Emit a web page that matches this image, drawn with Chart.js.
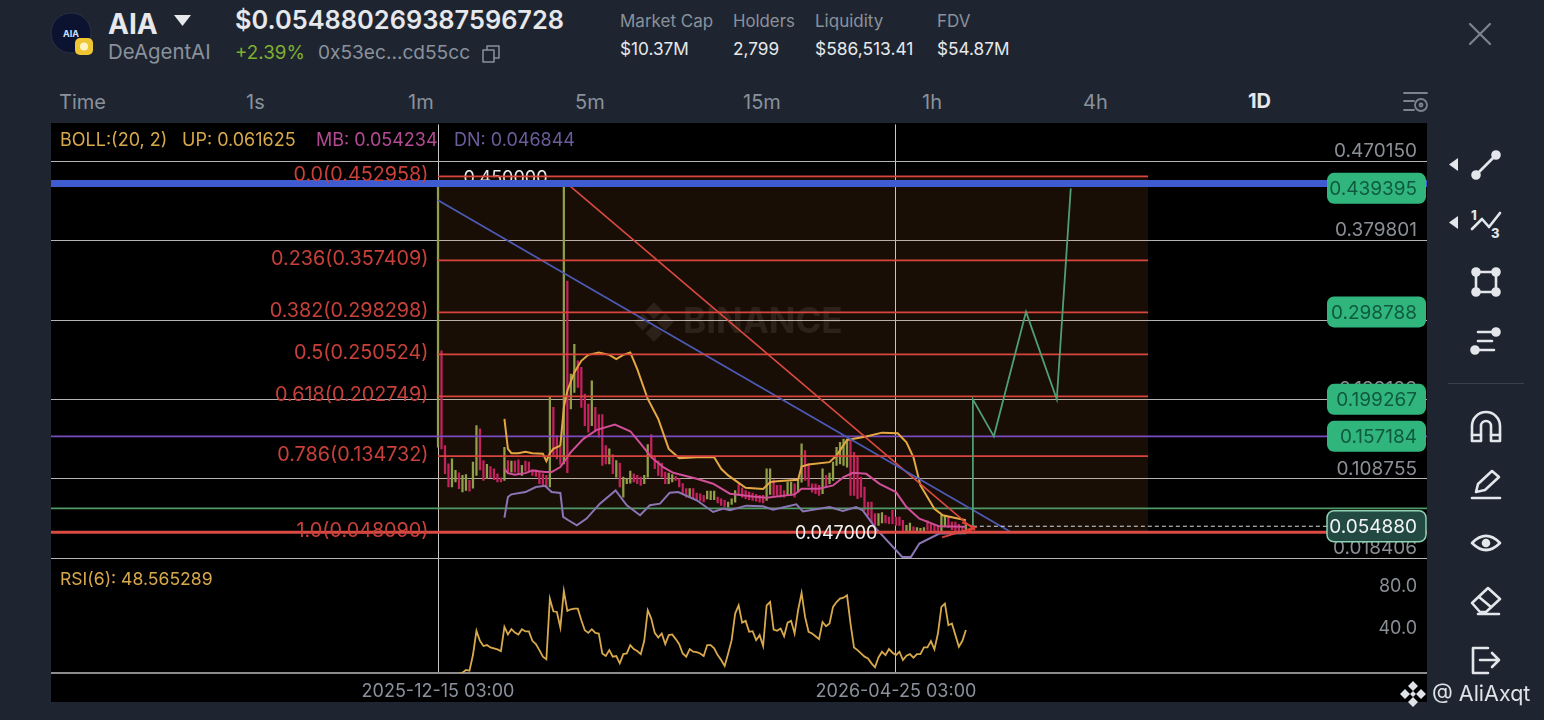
<!DOCTYPE html>
<html lang="en">
<head>
<meta charset="UTF-8">
<title>AIA DeAgentAI 1D</title>
<script src="https://cdn.jsdelivr.net/npm/chart.js@4"></script>
<style>
  html, body { margin: 0; padding: 0; background: #1e2530; width: 1544px; height: 720px; overflow: hidden; }
  body { position: relative; font-family: Inter, "Open Sans", sans-serif; color: #8a919c; }
  .t { position: absolute; white-space: nowrap; line-height: 1; transform: translateY(-50%); }
  .w { color: #e6e8ec; }
  .lbl { font-size: 17px; }
  .tf { font-size: 20px; top: 102px; }
  .ind { font-size: 18px; top: 140px; }
  #chartBox { position: absolute; left: 51px; top: 123px; width: 1376px; height: 579px; background: #000; }
  svg.ic { position: absolute; fill: none; stroke: #e3e6ea; stroke-width: 2.6; stroke-linecap: round; stroke-linejoin: round; }
</style>
</head>
<body>
  <!-- header -->
  <svg style="position:absolute;left:50px;top:12px" width="46" height="46" viewBox="0 0 46 46">
    <circle cx="21" cy="21" r="20" fill="#0b1330" stroke="#2a3040"/>
    <text x="21" y="25" font-size="9" font-weight="700" fill="#cfe0ff" text-anchor="middle" font-family="Inter">AIA</text>
    <rect x="25" y="26" width="18" height="17" rx="5" fill="#f0c534"/>
    <circle cx="34" cy="34.500" r="4" fill="#fff3bf"/>
  </svg>
  <div class="t w" style="left:108px;top:24px;font-size:28px;font-weight:700">AIA</div>
  <svg style="position:absolute;left:174px;top:15px" width="18" height="12"><path d="M0 0H17L8.500 11Z" fill="#e6e8ec"/></svg>
  <div class="t" style="left:108px;top:52px;font-size:20.400px">DeAgentAI</div>
  <div class="t w" style="left:235px;top:20px;font-size:25.400px;font-weight:600">$0.054880269387596728</div>
  <div class="t" style="left:235px;top:53px;font-size:18.800px;color:#7fb02f">+2.39%</div>
  <div class="t" style="left:318px;top:53px;font-size:19.100px">0x53ec...cd55cc</div>
  <svg class="ic" style="left:482px;top:45px;stroke:#8a919c;stroke-width:1.500" width="18" height="18"><rect x="1" y="5" width="11" height="12"/><path d="M5 5V1H17V13H12"/></svg>

  <div class="t lbl" style="left:620px;top:21px">Market Cap</div>
  <div class="t lbl w" style="left:620px;top:49px;font-size:17.200px">$10.37M</div>
  <div class="t lbl" style="left:733px;top:21px;font-size:16.800px">Holders</div>
  <div class="t lbl w" style="left:733px;top:49px;font-size:17.200px">2,799</div>
  <div class="t lbl" style="left:815px;top:21px">Liquidity</div>
  <div class="t lbl w" style="left:815px;top:49px;font-size:17.400px">$586,513.41</div>
  <div class="t lbl" style="left:937px;top:21px">FDV</div>
  <div class="t lbl w" style="left:937px;top:49px;font-size:17.200px">$54.87M</div>
  <svg class="ic" style="left:1468px;top:22px;stroke:#7d8490;stroke-width:2.200" width="24" height="24"><path d="M2 2L22 22M22 2L2 22"/></svg>

  <!-- timeframe row -->
  <div class="t tf" style="left:59px">Time</div>
  <div class="t tf" style="left:246px">1s</div>
  <div class="t tf" style="left:408px">1m</div>
  <div class="t tf" style="left:575px">5m</div>
  <div class="t tf" style="left:743px">15m</div>
  <div class="t tf" style="left:922px">1h</div>
  <div class="t tf" style="left:1083px">4h</div>
  <div class="t w tf" style="left:1248px;top:101px;font-weight:700">1D</div>
  <svg class="ic" style="left:1403px;top:90px;stroke:#7d8490;stroke-width:1.800" width="26" height="24"><path d="M1 3H24M1 11H11M1 20H11"/><circle cx="18" cy="15" r="6"/><circle cx="18" cy="15" r="1.500"/></svg>

  <div id="chartBox"><canvas id="c" width="1376" height="579"></canvas></div>

  <!-- indicator read-outs -->
  <div class="t ind" style="left:60px;color:#d8a94c">BOLL:(20, 2)</div>
  <div class="t ind" style="left:182px;color:#d8a94c">UP: 0.061625</div>
  <div class="t ind" style="left:316px;color:#b24a94">MB: 0.054234</div>
  <div class="t ind" style="left:454px;color:#6c5c9c">DN: 0.046844</div>
  <div class="t" style="left:60px;top:579px;font-size:17.600px;color:#d8a94c">RSI(6): 48.565289</div>

  <!-- drawing tools -->
  <svg style="position:absolute;left:1449px;top:158px" width="10" height="14"><path d="M9 0V13L0 6.500Z" fill="#e3e6ea"/></svg>
  <svg style="position:absolute;left:1449px;top:216px" width="10" height="14"><path d="M9 0V13L0 6.500Z" fill="#e3e6ea"/></svg>
  <svg class="ic" style="left:1470px;top:149px" width="32" height="32"><path d="M6 26L26 6"/><circle cx="6" cy="26" r="3.500" fill="#e3e6ea"/><circle cx="26" cy="6" r="3.500" fill="#e3e6ea"/></svg>
  <svg class="ic" style="left:1470px;top:207px" width="32" height="32"><path d="M2 22L12 12L19 20L30 6"/><text x="1" y="13" font-size="13" font-weight="800" fill="#e3e6ea" stroke="none" font-family="Inter">1</text><text x="21" y="31" font-size="13" font-weight="800" fill="#e3e6ea" stroke="none" font-family="Inter">3</text></svg>
  <svg class="ic" style="left:1470px;top:266px" width="32" height="32"><rect x="6" y="6" width="20" height="20"/><circle cx="6" cy="6" r="3.500" fill="#e3e6ea"/><circle cx="26" cy="6" r="3.500" fill="#e3e6ea"/><circle cx="6" cy="26" r="3.500" fill="#e3e6ea"/><circle cx="26" cy="26" r="3.500" fill="#e3e6ea"/></svg>
  <svg class="ic" style="left:1470px;top:325px" width="32" height="32"><path d="M8 7H24M8 16H22M8 25H24"/><circle cx="26" cy="7" r="3.500" fill="#e3e6ea"/><circle cx="5" cy="25" r="3.500" fill="#e3e6ea"/></svg>
  <div style="position:absolute;left:1448px;top:383px;width:76px;height:1px;background:#3a414d"></div>
  <svg class="ic" style="left:1470px;top:410px" width="32" height="34"><path d="M2 31V16A14 14 0 0 1 30 16V31H21V16A5 5 0 0 0 11 16V31Z"/><path d="M2 25H11M21 25H30"/></svg>
  <svg class="ic" style="left:1470px;top:468px" width="32" height="32"><path d="M2 30H30"/><path d="M6 24L8 16L22 3L29 9L15 22Z"/></svg>
  <svg class="ic" style="left:1470px;top:527px" width="32" height="32"><path d="M2 16Q16 2 30 16Q16 30 2 16Z"/><circle cx="16" cy="16" r="3" fill="#e3e6ea"/></svg>
  <svg class="ic" style="left:1470px;top:585px" width="32" height="32"><path d="M2 18L18 3L30 14L16 27H10Z"/><path d="M9 12L21 22M8 29H29"/></svg>
  <svg class="ic" style="left:1470px;top:644px" width="32" height="32"><path d="M18 4H3V29H18"/><path d="M10 16H29M22 9L29 16L22 23"/></svg>

  <!-- corner tag -->
  <svg style="position:absolute;left:1399px;top:680px" width="28" height="28" viewBox="0 0 28 28" fill="#dfe2e6"><path d="M14 1L19 6L14 11L9 6ZM6 9L11 14L6 19L1 14ZM22 9L27 14L22 19L17 14ZM14 17L19 22L14 27L9 22ZM14 11L17 14L14 17L11 14Z"/></svg>
  <div class="t" style="left:1432px;top:694px;font-size:21.500px;color:#dfe2e6">@ AliAxqt</div>

<script>
// ---- data ----
const rightValueTicks = [0.470150, 0.379801, 0.289452, 0.199103, 0.108755, 0.018406];
const rsiTicks = [80, 40];
const dateTicks = [0, 131]; // days since first candle
const dateLabels = ['2025-12-15 03:00', '2026-04-25 03:00'];

const candleHigh = [0.4450,0.2545,0.1467,0.1259,0.1316,0.1184,0.1157,0.1127,0.1138,0.1070,0.1278,0.1694,0.1656,0.1297,0.1252,0.1229,0.1203,0.1146,0.1101,
  0.1448,0.1297,0.1290,0.1290,0.1305,0.1241,0.1290,0.1278,0.1191,0.1191,0.1165,0.1146,0.1127,0.2023,0.1902,0.1581,0.1448,0.4418,0.3339,0.2280,0.2620,
  0.2431,0.2356,0.2053,0.1940,0.2204,0.1902,0.1819,0.1819,0.1467,0.1429,0.1365,0.1297,0.1267,0.1108,0.1089,0.1176,0.1146,0.1127,0.1108,0.1127,
  0.1479,0.1592,0.1335,0.1290,0.1267,0.1165,0.1153,0.1138,0.1116,0.1089,0.1033,0.0976,0.0976,0.0976,0.0927,0.0919,0.0900,0.0949,0.0949,0.0949,0.0881,
  0.0862,0.0843,0.0824,0.0862,0.0956,0.1032,0.0987,0.0956,0.0937,0.0926,0.0911,0.0900,0.0900,0.1202,0.1202,0.1077,0.1013,0.1013,0.0956,
  0.1051,0.1051,0.1032,0.1070,0.1486,0.1410,0.1259,0.1032,0.1032,0.1013,0.1202,0.1127,0.1153,0.1278,0.1448,0.1505,0.1542,0.1542,
  0.1523,0.1391,0.1334,0.1108,0.0994,0.0824,0.0824,0.0692,0.0692,0.0703,0.0673,0.0654,0.0730,0.0654,0.0654,0.0616,0.0559,0.0586,0.0541,0.0533,0.0525,0.0533,
  0.0609,0.0571,0.0559,0.0559,0.0673,0.0673,0.0654,0.0597,0.0597,0.0571,0.0548,0.0571];
const candleLow = [0.1448,0.1429,0.1146,0.0995,0.0995,0.1052,0.0976,0.0938,0.0957,0.0949,0.0983,0.1127,0.1191,0.1070,0.1089,0.1101,0.1078,0.1052,0.1052,
  0.1070,0.1146,0.1165,0.1165,0.1146,0.1127,0.1176,0.1165,0.1127,0.1116,0.1033,0.1014,0.0995,0.0995,0.1354,0.1316,0.1252,0.1259,0.1157,0.1883,0.2072,
  0.2129,0.1902,0.1694,0.1618,0.1694,0.1637,0.1562,0.1241,0.1259,0.1259,0.1146,0.1108,0.0995,0.0881,0.1033,0.1040,0.1052,0.1033,0.1014,0.1033,
  0.1108,0.1327,0.1203,0.1127,0.1108,0.1033,0.1033,0.1052,0.1070,0.0995,0.0919,0.0881,0.0874,0.0862,0.0844,0.0836,0.0825,0.0859,0.0851,0.0851,0.0813,
  0.0786,0.0775,0.0767,0.0798,0.0824,0.0900,0.0881,0.0862,0.0851,0.0843,0.0835,0.0824,0.0813,0.0843,0.0911,0.0900,0.0900,0.0881,0.0881,
  0.0900,0.0900,0.0881,0.0937,0.1051,0.1070,0.1002,0.0937,0.0919,0.0900,0.0919,0.0994,0.1032,0.1070,0.1240,0.1259,0.1240,0.1221,
  0.0900,0.0900,0.0862,0.0881,0.0730,0.0673,0.0597,0.0559,0.0559,0.0586,0.0586,0.0578,0.0578,0.0559,0.0559,0.0484,0.0495,0.0495,0.0495,0.0495,0.0495,0.0495,
  0.0503,0.0495,0.0495,0.0495,0.0495,0.0541,0.0533,0.0510,0.0495,0.0495,0.0484,0.0484];
const candleUp = [1,0,0,0,1,1,0,1,1,0,1,1,0,0,1,0,0,0,0,
  1,0,1,0,0,1,0,0,0,0,0,0,0,1,0,0,0,1,0,1,1,
  0,0,0,0,1,0,0,0,0,1,0,1,0,1,1,1,0,0,0,1,
  1,0,0,0,0,0,1,1,0,0,0,0,1,0,0,0,0,1,1,1,0,
  0,0,1,1,1,0,0,0,0,0,0,0,0,1,1,0,0,0,0,
  1,1,0,1,1,0,0,0,0,0,1,0,1,1,1,1,1,1,
  0,0,0,0,0,0,0,0,1,1,0,0,0,0,0,0,1,1,0,1,1,1,
  0,0,0,0,1,1,0,0,0,0,0,1];

const bollUpDays = [19,20,21,23,25,27,30,31,32,33,35,36,37,39,41,43,46,49,51,53,55,57,60,63,66,69,74,79,81,83,85,88,93,95,97,103,104,106,112,114,117,122.5,127,131.5,134,136,138,142,144.4,151];
const bollUpValues = [0.1770,0.1429,0.1380,0.1380,0.1395,0.1380,0.1373,0.1290,0.1380,0.1429,0.1467,0.1902,0.2091,0.2299,0.2431,0.2499,0.2526,0.2499,0.2450,0.2499,0.2526,0.2337,0.1997,0.1770,0.1429,0.1324,0.1335,0.1335,0.1203,0.1127,0.1070,0.0987,0.0972,0.1051,0.1062,0.1077,0.1229,0.1251,0.1278,0.1353,0.1531,0.1569,0.1614,0.1607,0.1505,0.1334,0.1013,0.0748,0.0673,0.0616];
const bollMidDays = [19,20,22,25,27,30.6,32.5,35,38,41.6,45.4,50.6,55,58,61,64.4,67.3,74,78.7,83.5,85.3,90,94,102,104,109,113,116,118.7,122.5,126.3,131,134,137.7,143.4,151];
const bollMidValues = [0.1203,0.1153,0.1135,0.1153,0.1184,0.1165,0.1165,0.1222,0.1392,0.1543,0.1645,0.1705,0.1630,0.1486,0.1335,0.1222,0.1157,0.1089,0.1033,0.0919,0.0911,0.0888,0.0873,0.0911,0.0975,0.0975,0.1013,0.1108,0.1157,0.1145,0.1032,0.0937,0.0767,0.0635,0.0548,0.0542];
const bollDnDays = [19,20,21,25,28,30.6,32.5,35,35.8,37.3,39.7,42.5,46.3,50.8,54,57.8,60.6,63.5,66.3,68.7,74,78.7,81.6,83.5,88.2,93,95.8,102.5,104.4,112,115.8,119.6,121.5,125.3,132.8,135.3,137.7,143.4,151];
const bollDnValues = [0.0647,0.0881,0.0912,0.0938,0.0995,0.1010,0.0938,0.0927,0.0655,0.0617,0.0560,0.0636,0.0806,0.0957,0.0787,0.0674,0.0787,0.0806,0.0931,0.0938,0.0844,0.0711,0.0749,0.0730,0.0783,0.0775,0.0737,0.0798,0.0718,0.0767,0.0722,0.0767,0.0730,0.0522,0.0200,0.0200,0.0352,0.0465,0.0468];

const rsiFirstDay = 6;
const rsiValues = [7.5,8.7,11.2,10.6,25.1,47.7,38.4,33.5,34.4,32.2,31.3,30.4,28.8,
  51.4,44.3,49.2,46.1,44.3,49.2,47.1,47.1,38.4,35.3,29.7,23.6,21.1,
  77.7,65.9,65.3,50.8,84.8,66.3,67.8,68.4,68.4,57.6,48.3,45.8,49.2,45.8,45.2,
  26.6,24.2,29.7,23.6,24.2,17.4,26.0,26.6,34.4,30.7,28.8,26.0,38.4,
  66.9,59.1,45.8,41.5,45.2,35.3,43.7,44.3,40.0,35.3,26.6,23.6,30.7,28.2,27.9,26.6,24.2,34.4,34.4,31.3,25.1,20.5,14.9,
  26.6,39.0,63.8,71.5,55.4,57.0,46.8,47.4,39.0,43.7,33.5,71.5,74.6,48.9,47.7,49.9,42.7,55.4,57.0,45.2,66.9,83.0,60.7,46.8,45.2,42.7,40.0,
  56.0,52.0,54.5,70.0,74.6,77.7,78.6,80.8,54.5,32.2,29.7,26.6,23.6,22.0,17.4,13.7,22.9,28.2,25.1,30.7,27.3,25.1,28.2,20.5,24.5,26.0,
  22.6,26.0,26.0,32.2,32.2,38.1,30.4,45.2,70.0,73.1,52.9,54.5,43.7,32.8,38.4,48.565289];

// fibonacci tool
const fibRatios = ['0.0','0.236','0.382','0.5','0.618','0.786','1.0'];
const fibValues = [0.452958,0.357409,0.298298,0.250524,0.202749,0.134732,0.048090];
const fibEndDay = 203.1;

// hand drawn lines on the chart
const blueLevel = 0.4450;
const purpleLevel = 0.157184;
const greenLevel = 0.0752;
const lastPrice = 0.054880;
const blueTrendDays = [0, 163.6];
const blueTrendValues = [0.4259, 0.0490];
const redTrendDays = [37.8, 153.6];
const redTrendValues = [0.4418, 0.0502];
const pathDays = [153, 153, 159, 168.2, 177, 181];
const pathValues = [0.05488, 0.199267, 0.157184, 0.298788, 0.199267, 0.439395];
const arrowDays = [144.2, 153.6, 149.9, 153.6, 151];
const arrowValues = [0.0422, 0.0536, 0.0592, 0.0536, 0.0468];

const priceTags = [0.439395, 0.298788, 0.199267, 0.157184];
const lastTag = 0.054880;

// ---- scale ranges (the visible window of the chart) ----
const dayMin = -110.7, dayMax = 282.9;
const pts = (xs, ys) => xs.map((x, i) => ({x: x, y: ys[i]}));
const ln = (data, color, width, order, extra) => Object.assign({
  type: 'line', data: data, borderColor: color, borderWidth: width, order: order,
  pointRadius: 0, tension: 0, fill: false, yAxisID: 'y', xAxisID: 'x'
}, extra || {});
const flat = (value, x0, x1) => [{x: x0, y: value}, {x: x1, y: value}];

const datasets = [
  // fib zone background
  ln(flat(fibValues[0], 0, fibEndDay), 'transparent', 0, 90,
     {fill: {value: fibValues[6]}, backgroundColor: 'rgba(240,140,60,0.10)'}),
  // candles
  { type: 'bar', yAxisID: 'y', xAxisID: 'x', order: 60, barThickness: 1.6, grouped: false,
    data: candleHigh.map((h, i) => ({x: i, y: [candleLow[i], h]})),
    backgroundColor: candleUp.map(u => u ? '#8f9f4a' : '#c4215f') },
  ln(pts(bollDnDays, bollDnValues), '#8b75b4', 2, 40),
  ln(pts(bollMidDays, bollMidValues), '#cf4f98', 2, 40),
  ln(pts(bollUpDays, bollUpValues), '#e3a843', 2, 40),
  ln(flat(purpleLevel, dayMin, dayMax), '#7a4cc0', 1.6, 50),
  ln(flat(greenLevel, dayMin, dayMax), '#4f9a66', 1.6, 50),
  ln(pts(blueTrendDays, blueTrendValues), '#4c5ab4', 1.8, 30),
  ln(pts(redTrendDays, redTrendValues), '#d94a40', 1.6, 30),
  ln(pts(pathDays, pathValues), '#4f9f73', 1.8, 20),
  ln(pts(arrowDays, arrowValues), '#e0403a', 1.8, 15),
  ln(flat(lastPrice, 153, dayMax), '#d8dadd', 1, 15, {borderDash: [4, 3]}),
  ln(flat(fibValues[6], dayMin, dayMax), '#dc4a44', 3, 12),
  ln(flat(blueLevel, dayMin, dayMax), '#3f5bd2', 7, 5),
  // rsi panel
  ln(rsiValues.map((v, i) => ({x: i + rsiFirstDay, y: v})), '#d8a94c', 1.8, 40, {yAxisID: 'rsi'})
];
fibValues.forEach(v => datasets.push(ln(flat(v, 0, fibEndDay), '#d8453c', 1.8, 25)));

const font = '18px Inter, "Open Sans", sans-serif';

// things the library has no element for: fib captions, tags, watermark
const overlays = {
  id: 'overlays',
  beforeDatasetsDraw(chart) {
    const ctx = chart.ctx, y = chart.scales.y, x = chart.scales.x;
    ctx.save();
    // watermark
    ctx.fillStyle = 'rgba(255,255,255,0.09)';
    ctx.font = '700 35px Inter, sans-serif';
    ctx.textAlign = 'left';
    ctx.textBaseline = 'middle';
    ctx.fillText('BINANCE', 632, 199);
    ctx.translate(603, 199);
    ctx.rotate(Math.PI / 4);
    ctx.fillRect(-14, -14, 12, 12); ctx.fillRect(2, -14, 12, 12);
    ctx.fillRect(-14, 2, 12, 12); ctx.fillRect(2, 2, 12, 12);
    ctx.restore();
    // order line caption, half hidden by the blue level
    ctx.save();
    ctx.fillStyle = '#e8e8e8';
    ctx.font = font;
    ctx.textAlign = 'center';
    ctx.textBaseline = 'middle';
    ctx.fillText('0.450000', x.getPixelForValue(19.3), y.getPixelForValue(0.4505));
    ctx.restore();
  },
  afterDatasetsDraw(chart) {
    const ctx = chart.ctx, y = chart.scales.y, x = chart.scales.x;
    ctx.save();
    ctx.font = '19.8px Inter, "Open Sans", sans-serif';
    ctx.textBaseline = 'middle';
    ctx.textAlign = 'right';
    ctx.fillStyle = '#c8403a';
    fibRatios.forEach((r, i) => {
      ctx.fillText(r + '(' + fibValues[i].toFixed(6) + ')', x.getPixelForValue(-2.7), y.getPixelForValue(fibValues[i]) - 1);
    });
    ctx.font = font;
    ctx.textAlign = 'center';
    ctx.fillStyle = '#f0f0f0';
    ctx.fillText('0.047000', x.getPixelForValue(113.9), y.getPixelForValue(0.0470));
    ctx.restore();
  },
  afterDraw(chart) {
    const ctx = chart.ctx, y = chart.scales.y;
    ctx.save();
    ctx.font = '19px Inter, "Open Sans", sans-serif';
    ctx.textAlign = 'right';
    ctx.textBaseline = 'middle';
    const tag = (value, fill, stroke, color) => {
      const py = y.getPixelForValue(value);
      ctx.beginPath();
      ctx.roundRect(1276, py - 15.5, 99, 31, 7);
      ctx.fillStyle = fill;
      ctx.fill();
      if (stroke) { ctx.strokeStyle = stroke; ctx.lineWidth = 1.5; ctx.stroke(); }
      ctx.fillStyle = color;
      ctx.fillText(value.toFixed(6), 1366, py + 1);
    };
    priceTags.forEach(v => tag(v, '#30b67d', null, '#0f5a3e'));
    tag(lastTag, '#234a42', '#8fd3b4', '#f2f4f5');
    ctx.restore();
  }
};

new Chart(document.getElementById('c'), {
  type: 'bar',
  data: { datasets: datasets },
  plugins: [overlays],
  options: {
    responsive: false,
    animation: false,
    layout: { padding: 0 },
    plugins: { legend: { display: false }, tooltip: { enabled: false } },
    scales: {
      x: {
        type: 'linear', position: 'bottom', offset: false, min: dayMin, max: dayMax,
        afterBuildTicks: s => { s.ticks = dateTicks.map(v => ({value: v})); },
        afterFit: s => { s.height = 29; },
        grid: { color: '#c8c8c8', lineWidth: 1, drawTicks: false, offset: false },
        border: { color: '#8c8c8c', width: 2 },
        ticks: { autoSkip: false, maxRotation: 0, padding: 8, color: '#8a919c', font: {family: 'Inter', size: 18},
                 callback: v => dateLabels[dateTicks.indexOf(v)] }
      },
      y: {
        type: 'linear', position: 'right', stack: 'panes', stackWeight: 435, weight: 1,
        min: 0.018406, max: 0.512148,
        afterBuildTicks: s => { s.ticks = rightValueTicks.map(v => ({value: v})); },
        afterFit: s => { s.width = 0; },
        grid: { color: '#b4b4b4', lineWidth: 1, drawTicks: false },
        border: { display: false },
        ticks: { mirror: true, padding: -10, labelOffset: -10, autoSkip: false, color: '#8a8f96', font: {family: 'Inter', size: 19},
                 callback: v => v.toFixed(6) }
      },
      rsi: {
        type: 'linear', position: 'right', stack: 'panes', stackWeight: 115, weight: 2,
        min: 8.37, max: 115.35,
        afterBuildTicks: s => { s.ticks = rsiTicks.map(v => ({value: v})); },
        afterFit: s => { s.width = 0; },
        grid: { display: false, drawTicks: false },
        border: { display: false },
        ticks: { mirror: true, padding: -10, labelOffset: -10, autoSkip: false, color: '#8a8f96', font: {family: 'Inter', size: 18},
                 callback: v => v.toFixed(1) }
      }
    }
  }
});
</script>
</body>
</html>
